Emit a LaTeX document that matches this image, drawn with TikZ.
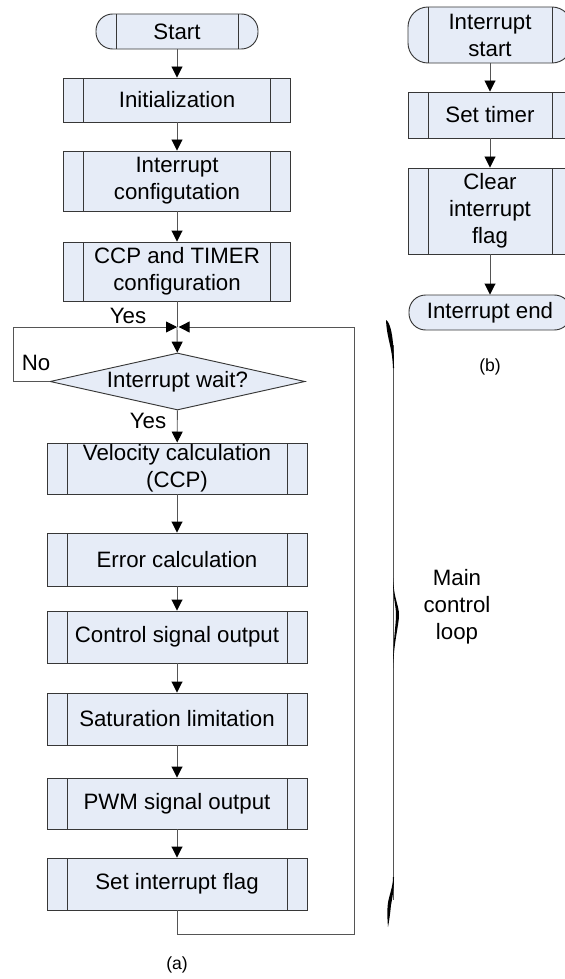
\documentclass[tikz,border=0pt]{standalone}
\usepackage{fontspec}
\setmainfont{Liberation Sans}
\usetikzlibrary{arrows.meta,shapes.geometric}
\definecolor{boxfill}{RGB}{230,236,247}
\definecolor{boxline}{RGB}{55,55,55}
\definecolor{connline}{RGB}{85,85,85}
\begin{document}
\begin{tikzpicture}[x=0.03cm,y=-0.03cm,
    every node/.style={font=\fontsize{19}{23}\selectfont, inner sep=0pt, align=center},
    strips/.style={path picture={
        \draw[boxline, line width=0.7pt] ([xshift=0.6cm]path picture bounding box.north west) -- ([xshift=0.6cm]path picture bounding box.south west);
        \draw[boxline, line width=0.7pt] ([xshift=-0.6cm]path picture bounding box.north east) -- ([xshift=-0.6cm]path picture bounding box.south east);}},
    process/.style={rectangle, draw=boxline, fill=boxfill, line width=0.8pt, minimum width=6.81cm, strips},
    terminal/.style={rectangle, rounded corners=0.5cm, draw=boxline, fill=boxfill, line width=0.8pt},
    decision/.style={diamond, draw=boxline, fill=boxfill, line width=0.8pt, aspect=4.47, minimum width=7.65cm, minimum height=1.71cm},
    conn/.style={draw=connline, line width=0.8pt},
    arr/.style={conn, -{Triangle[length=0.33cm,width=0.33cm,black]}},
    caption/.style={font=\fontsize{15}{18}\selectfont}]
    \useasboundingbox (0,0) rectangle (565,979);
    \clip (0,0) rectangle (565,979);
    % Main program
    \begin{scope}
        \node[terminal, strips, minimum width=4.86cm, minimum height=1.05cm] (start) at (177,31.5) {Start};
        \node[process, minimum height=1.32cm] (init) at (177,100) {Initialization};
        \node[process, minimum height=1.8cm] (intcfg) at (177,181) {Interrupt\\configutation};
        \node[process, minimum height=1.77cm] (ccpcfg) at (177,271.5) {CCP and TIMER\\configuration};
        \coordinate (join) at (177,327);
        \node[decision] (wait) at (177.5,381.5) {Interrupt wait?};
        \node[process, minimum width=7.8cm, minimum height=1.53cm] (vel) at (177,468.5) {Velocity calculation\\(CCP)};
        \node[process, minimum width=7.8cm, minimum height=1.59cm] (err) at (177,559.5) {Error calculation};
        \node[process, minimum width=7.8cm, minimum height=1.56cm] (ctrl) at (177,637) {Control signal output};
        \node[process, minimum width=7.8cm, minimum height=1.56cm] (sat) at (177,719) {Saturation limitation};
        \node[process, minimum width=7.8cm, minimum height=1.53cm] (pwm) at (177,803.5) {PWM signal output};
        \node[process, minimum width=7.8cm, minimum height=1.56cm] (setflag) at (177,884) {Set interrupt flag};
        \coordinate (noleft) at (13,327);
        \coordinate (loopright) at (354,934);
        \draw[arr] (start) -- (init);
        \draw[arr] (init) -- (intcfg);
        \draw[arr] (intcfg) -- (ccpcfg);
        \draw[conn] (ccpcfg) -- (join);
        \draw[arr] (join) -- (wait);
        \draw[arr] (wait.west) -| (noleft) -- (join);
        \draw[arr] (wait) -- (vel);
        \draw[arr] (vel) -- (err);
        \draw[arr] (err) -- (ctrl);
        \draw[arr] (ctrl) -- (sat);
        \draw[arr] (sat) -- (pwm);
        \draw[arr] (pwm) -- (setflag);
        \draw[arr, shorten >=-0.1cm] (setflag) |- (loopright) |- ([xshift=0.15cm]join);
        \node (yes1) at (128,316) {Yes};
        \node (no) at (36,363) {No};
        \node (yes2) at (148,421) {Yes};
        \node[caption] (capa) at (177,965) {(a)};
    \end{scope}
    % Brace round the main control loop
    \begin{scope}
        \draw[connline, line width=0.6pt] (393.5,345) -- (393.5,900);
        \fill[black] (386,320) .. controls (390,322) and (394,335) .. (394,368) -- (393,368) .. controls (392,345) and (387,340) .. (386,320) -- cycle;
        \fill[black] (393,578) .. controls (394,600) and (399,605) .. (399,615) .. controls (399,625) and (394,640) .. (393,668) .. controls (393,640) and (396,625) .. (396,615) .. controls (396,605) and (393,600) .. (393,578) -- cycle;
        \fill[black] (394,877) .. controls (394,890) and (392,900) .. (391,905) .. controls (390,915) and (389,922) .. (388,927) .. controls (387,915) and (387,905) .. (389,898) .. controls (391,890) and (393,885) .. (393,877) -- cycle;
        \node (looptxt) at (457,607) {Main\\control\\loop};
    \end{scope}
    % Interrupt routine
    \begin{scope}
        \node[terminal, strips, rounded corners=0.6cm, minimum width=4.92cm, minimum height=1.68cm] (intstart) at (490,35) {Interrupt\\start};
        \node[process, minimum width=4.92cm, minimum height=1.38cm] (settimer) at (490,115) {Set timer};
        \node[process, minimum width=4.92cm, minimum height=2.58cm] (clearflag) at (490,211) {Clear\\interrupt\\flag};
        \node[terminal, minimum width=4.86cm, minimum height=1.05cm] (intend) at (490,312.5) {Interrupt end};
        \draw[arr] (intstart) -- (settimer);
        \draw[arr] (settimer) -- (clearflag);
        \draw[arr] (clearflag) -- (intend);
        \node[caption] (capb) at (490,367) {(b)};
    \end{scope}
\end{tikzpicture}
\end{document}
